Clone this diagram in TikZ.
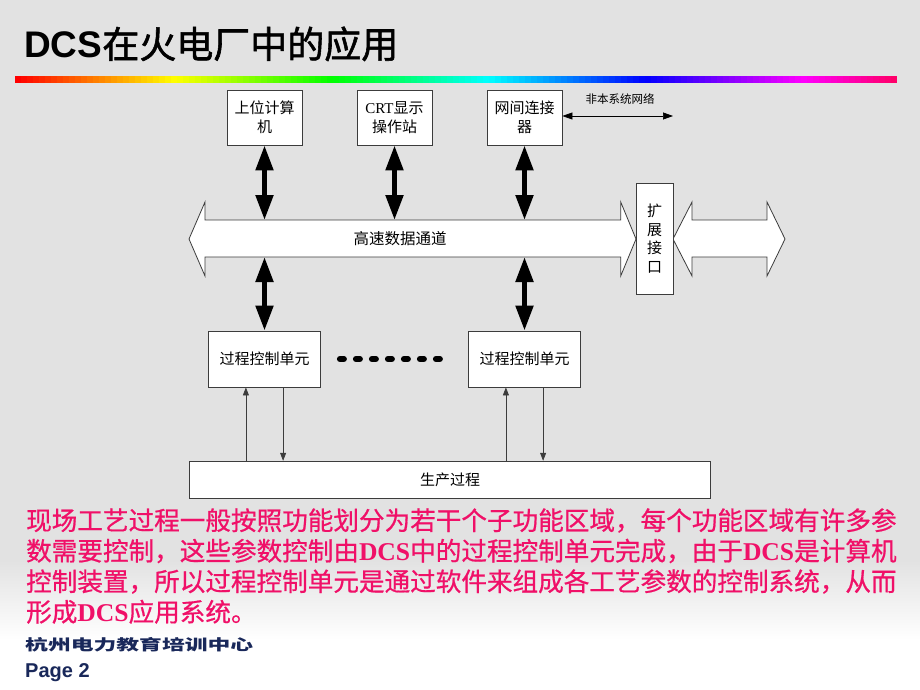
\documentclass[tikz,border=0pt]{standalone}
\usepackage{fontspec}
\setmainfont{Liberation Serif}
\newfontfamily\cjk{Noto Sans CJK SC}
\newfontfamily\cjkheavy[FakeBold=1.5]{Noto Sans CJK SC}
\newfontfamily\cjkmid[FakeBold=0.7]{Noto Sans CJK SC}
\newfontfamily\sansfnt{Liberation Sans}
\usetikzlibrary{arrows.meta}

\definecolor{slidegray}{RGB}{226,226,226}
\definecolor{notepink}{RGB}{240,16,104}
\definecolor{footnavy}{RGB}{25,40,90}
\definecolor{framegray}{RGB}{60,60,60}

\newcommand{\dcsword}{{\rmfamily\bfseries DCS}}

\tikzset{
    unit/.style={draw=framegray, line width=0.8pt, fill=white, align=center, inner sep=0pt,
        font=\cjk\fontsize{15}{19}\selectfont},
    busshape/.style={draw=framegray, line width=0.8pt, fill=white},
    buslink/.style={line width=5pt, {Triangle[length=25pt,width=17pt]}-{Triangle[length=25pt,width=17pt]}},
    signal/.style={draw=framegray, line width=0.7pt, -{Triangle[length=8pt,width=6pt]}},
    netlink/.style={line width=0.7pt, {Triangle[length=10pt,width=7pt]}-{Triangle[length=10pt,width=7pt]}},
    noteline/.style={anchor=base west, inner sep=0pt, text=notepink,
        font=\cjkmid\fontsize{25.6}{30}\selectfont},
}

\begin{document}
\begin{tikzpicture}[x=1pt, y=-1pt]
    \useasboundingbox (0,0) rectangle (920,690);
    \fill[slidegray] (0,0) rectangle (920,690);
    \shade[top color=slidegray, bottom color=white] (0,560) rectangle (920,640);
    \fill[white] (0,640) rectangle (920,690);

    \node[anchor=base west, inner sep=0pt, font=\fontsize{37}{40}\selectfont] (title) at (24,58)
        {{\sansfnt\bfseries DCS}{\cjkheavy 在火电厂中的应用}};
    \foreach \i in {0,...,146} {
        \pgfmathsetmacro\hue{\i/146*335}
        \definecolor{rainbow}{Hsb}{\hue,1,1}
        \fill[rainbow] (15+\i*6,76) rectangle ++(6.3,7);
    }

    \node[unit, minimum width=75pt, minimum height=55pt] (hostpc) at (264.5,117.5) {上位计算\\机};
    \node[unit, minimum width=75pt, minimum height=55pt] (crt) at (394.5,117.5) {{\rmfamily CRT}显示\\操作站};
    \node[unit, minimum width=75pt, minimum height=55pt] (gateway) at (524.5,117.5) {网间连接\\器};
    \coordinate (netend) at (673,116);
    \draw[netlink] (gateway.east |- netend) -- (netend);
    \node[font=\cjk\fontsize{11.5}{13}\selectfont, inner sep=0pt] (netlabel) at (620,99) {非本系统网络};

    \draw[busshape] (189,239) -- (205,202) -- (205,220) -- (620.7,220) -- (620.7,202) -- (636,239)
        -- (620.7,276) -- (620.7,257) -- (205,257) -- (205,276) -- cycle;
    \draw[busshape] (673,239) -- (692,202) -- (692,220) -- (767,220) -- (767,202) -- (785,239)
        -- (767,276) -- (767,257) -- (692,257) -- (692,276) -- cycle;
    \coordinate (bustop) at (400,220);
    \coordinate (busbot) at (400,257);
    \node[font=\cjk\fontsize{15.5}{18}\selectfont, inner sep=0pt] (bus) at (400,239) {高速数据通道};
    \node[unit, minimum width=37pt, minimum height=111pt, font=\cjk\fontsize{15}{18.5}\selectfont]
        (ext) at (654.5,238.5) {扩\\展\\接\\口};

    \node[unit, minimum width=112pt, minimum height=56pt] (pcuA) at (264.5,359) {过程控制单元};
    \node[unit, minimum width=112pt, minimum height=56pt] (pcuB) at (524.5,359) {过程控制单元};
    \draw[line width=6pt, line cap=round, dash pattern=on 4pt off 12pt]
        ([xshift=19pt]pcuA.east) -- ([xshift=-28pt]pcuB.west);
    \node[unit, minimum width=520.7pt, minimum height=37pt] (plant) at (450,479.7) {生产过程};

    \foreach \u in {hostpc,crt,gateway}
        \draw[buslink] (\u.south) -- (\u.south |- bustop);
    \foreach \u in {pcuA,pcuB} {
        \draw[buslink] (\u.north) -- (\u.north |- busbot);
        \coordinate (\u-in) at ([xshift=-18.6pt]\u.south);
        \coordinate (\u-out) at ([xshift=18.6pt]\u.south);
        \draw[signal] (\u-in |- plant.north) -- (\u-in);
        \draw[signal] (\u-out) -- (\u-out |- plant.north);
    }

    \node[noteline] (note1) at (26,530) {现场工艺过程一般按照功能划分为若干个子功能区域，每个功能区域有许多参};
    \node[noteline] (note2) at (26,560.5) {数需要控制，这些参数控制由\dcsword 中的过程控制单元完成，由于\dcsword 是计算机};
    \node[noteline] (note3) at (26,591) {控制装置，所以过程控制单元是通过软件来组成各工艺参数的控制系统，从而};
    \node[noteline] (note4) at (26,621.5) {形成\dcsword 应用系统。};

    \node[anchor=base west, inner sep=0pt, text=footnavy, font=\cjk\bfseries\fontsize{15}{17}\selectfont]
        (center) at (25,650) {\scalebox{1.52}[1]{杭州电力教育培训中心}};
    \node[anchor=base west, inner sep=0pt, text=footnavy, font=\sansfnt\bfseries\fontsize{20}{22}\selectfont]
        (page) at (25,677) {Page 2};
\end{tikzpicture}
\end{document}
